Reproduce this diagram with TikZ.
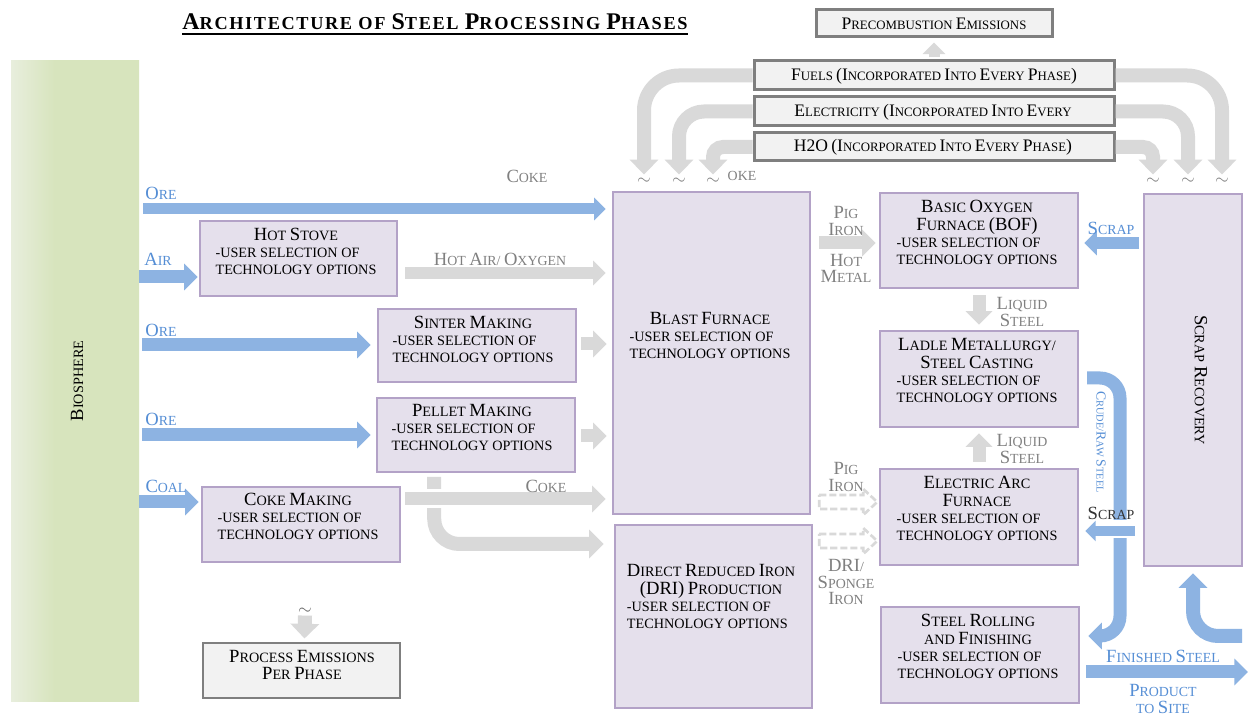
\documentclass[tikz,border=0pt]{standalone}
\usepackage{fontspec}
\setmainfont{Liberation Serif}
\usetikzlibrary{arrows.meta,calc,fit}

\definecolor{phasefill}{HTML}{E5E0EC}
\definecolor{phaseline}{HTML}{B3A2C7}
\definecolor{notefill}{HTML}{F2F2F2}
\definecolor{noteline}{HTML}{7F7F7F}
\definecolor{flowblue}{HTML}{8DB3E2}
\definecolor{labelblue}{HTML}{558ED5}
\definecolor{flowgrey}{HTML}{D9D9D9}
\definecolor{labelgrey}{HTML}{808080}
\definecolor{bioedge}{HTML}{E8EEDD}
\definecolor{biofill}{HTML}{D7E4BD}

% light left edge fading into the biosphere green
\pgfdeclarehorizontalshading{bioshade}{100bp}{color(0bp)=(bioedge); color(25bp)=(bioedge);
  color(42bp)=(biofill); color(100bp)=(biofill)}

% small-capital look: body letters small, initials larger
\newcommand\bodyfont{\fontsize{8.1}{9.7}\selectfont}
\newcommand\labelfont{\fontsize{7.9}{9.2}\selectfont}
\newcommand\energyfont{\fontsize{7.3}{9}\selectfont}
\newcommand\K[1]{{\fontsize{10.6}{9.7}\selectfont #1}}
\newcommand\KE[1]{{\fontsize{10}{9}\selectfont #1}}
\newcommand\KS[1]{{\fontsize{7.8}{9}\selectfont #1}}
\newcommand\KT[1]{{\fontsize{13.6}{14}\selectfont #1}}
\newcommand\hd[1]{\multicolumn{1}{@{}c@{}}{#1}}
\newcommand\phasetext[1]{\begin{tabular}{@{}l@{}}#1\\-USER SELECTION OF\\TECHNOLOGY OPTIONS\end{tabular}}
% hollow dashed block arrow pointing right, starting at #1
\newcommand\hollowarrow[1]{%
  \draw[hollow] (#1) ++(0,-7) -- ++(44,0) -- ++(0,-6) -- ++(14,13) -- ++(-14,13)
    -- ++(0,-6) -- ++(-44,0) -- cycle;}

\begin{document}
\begin{tikzpicture}[x=0.02cm, y=-0.02cm,
  phase/.style={draw=phaseline, fill=phasefill, line width=1.4pt, inner sep=0pt},
  note/.style={draw=noteline, fill=notefill, line width=1.7pt, inner sep=0pt},
  txt/.style={inner sep=0pt, font=\bodyfont, align=center},
  etxt/.style={inner sep=0pt, font=\energyfont, align=center},
  bluelab/.style={inner sep=0pt, font=\labelfont, text=labelblue, align=center},
  greylab/.style={inner sep=0pt, font=\labelfont, text=labelgrey, align=center},
  darklab/.style={inner sep=0pt, font=\labelfont, text=black!80, align=center},
  bflow/.style={draw=flowblue, line width=#1*0.02cm, -{Triangle[length=0pt 1.05, width=0pt 2]}},
  gflow/.style={draw=flowgrey, line width=#1*0.02cm, -{Triangle[length=0pt 1.05, width=0pt 2]}},
  hollow/.style={draw=flowgrey, fill=white, line width=1.5pt, dash pattern=on 4pt off 1.7pt},
  squig/.style={inner sep=0pt, text=labelgrey},
]
\fill[white] (0,0) rectangle (1248,715);
\useasboundingbox (0,0) rectangle (1248,715);

% ---------- title ----------
\node[inner sep=0pt, font=\bfseries\fontsize{10.4}{12}\selectfont\addfontfeature{LetterSpace=9}] (title) at (435,22)
  {\KT{A}RCHITECTURE OF \KT{S}TEEL \KT{P}ROCESSING \KT{P}HASES};
\draw[line width=1.2pt] ([yshift=-2.4pt]title.base west) -- ([yshift=-2.4pt]title.base east);

% ---------- biosphere ----------
\node[fit={(11,61) (139,702)}, inner sep=0pt, shading=bioshade] (bio) {};
\node[txt, rotate=90] (bio-t) at (77,381) {\K{B}IOSPHERE};

% ---------- process phases ----------
\node[phase, fit={(200,221) (397,296)}] (hs) {};
\node[txt] (hs-t) at (296,254) {\phasetext{\hd{\K{H}OT \K{S}TOVE}}};
\node[phase, fit={(378,309) (576,382)}] (sin) {};
\node[txt] (sin-t) at (473,342) {\phasetext{\hd{\K{S}INTER \K{M}AKING}}};
\node[phase, fit={(377,398) (575,472)}] (pel) {};
\node[txt] (pel-t) at (472,430) {\phasetext{\hd{\K{P}ELLET \K{M}AKING}}};
\node[phase, fit={(202,487) (400,562)}] (ck) {};
\node[txt] (ck-t) at (298,519) {\phasetext{\hd{\K{C}OKE \K{M}AKING}}};
\node[phase, fit={(613,192) (810,514)}] (bf) {};
\node[txt] (bf-t) at (710,338) {\phasetext{\hd{\K{B}LAST \K{F}URNACE}}};
\node[phase, fit={(615,525) (812,708)}] (dri) {};
\node[txt] (dri-t) at (711,599) {\phasetext{\hd{\K{D}IRECT \K{R}EDUCED \K{I}RON}\\\hd{\K{(DRI)} \K{P}RODUCTION}}};
\node[phase, fit={(880,193) (1078,288)}] (bof) {};
\node[txt] (bof-t) at (977,235) {\phasetext{\hd{\K{B}ASIC \K{O}XYGEN}\\\hd{\K{F}URNACE \K{(BOF)}}}};
\node[phase, fit={(880,331) (1078,427)}] (lad) {};
\node[txt] (lad-t) at (977,373) {\phasetext{\hd{\K{L}ADLE \K{M}ETALLURGY/}\\\hd{\K{S}TEEL \K{C}ASTING}}};
\node[phase, fit={(880,469) (1078,565)}] (eaf) {};
\node[txt] (eaf-t) at (977,511) {\phasetext{\hd{\K{E}LECTRIC \K{A}RC}\\\hd{\K{F}URNACE}}};
\node[phase, fit={(881,607) (1079,703)}] (rol) {};
\node[txt] (rol-t) at (978,649) {\phasetext{\hd{\K{S}TEEL \K{R}OLLING}\\\hd{AND \K{F}INISHING}}};
\node[phase, fit={(1144,194) (1242,566)}] (scr) {};
\node[txt, rotate=-90] (scr-t) at (1201,380) {\K{S}CRAP \K{R}ECOVERY};

% ---------- emissions and energy boxes ----------
\node[note, fit={(203,643) (400,698)}] (pem) {};
\node[txt, font=\fontsize{8.1}{9.2}\selectfont] (pem-t) at (302,665) {\K{P}ROCESS \K{E}MISSIONS\\\K{P}ER \K{P}HASE};
\node[note, fit={(816,10) (1052,37)}] (pre) {};
\node[etxt] (pre-t) at (934,24) {\KE{P}RECOMBUSTION \KE{E}MISSIONS};
\node[note, fit={(754,61) (1114,90)}] (fu) {};
\node[etxt] (fu-t) at (934,76) {\KE{F}UELS \KE{(I}NCORPORATED \KE{I}NTO \KE{E}VERY \KE{P}HASE\KE{)}};
\node[note, fit={(754,97) (1114,126)}] (el) {};
\node[etxt] (el-t) at (933,112) {\KE{E}LECTRICITY \KE{(I}NCORPORATED \KE{I}NTO \KE{E}VERY};
\node[note, fit={(754,133) (1114,161)}] (wa) {};
\node[etxt] (wa-t) at (933,147) {\KE{H2O} \KE{(I}NCORPORATED \KE{I}NTO \KE{E}VERY \KE{P}HASE\KE{)}};

% small wave marks under the energy feeds
\node[squig] (t1) at (644,181) {$\sim$};
\node[squig] (t2) at (679,181) {$\sim$};
\node[squig] (t3) at (713,181) {$\sim$};
\node[squig] (t4) at (1153,181) {$\sim$};
\node[squig] (t5) at (1188,181) {$\sim$};
\node[squig] (t6) at (1222,181) {$\sim$};
\node[squig, text=black!60] (t7) at (305,611) {$\sim$};

% ---------- energy feeds ----------
\draw[gflow=14, rounded corners=0.7cm] (fu.west) -| ($(t1.north)+(0,-3)$);
\draw[gflow=14, rounded corners=0.5cm] (el.west) -| ($(t2.north)+(0,-3)$);
\draw[gflow=14, rounded corners=0.2cm] (wa.west) -| ($(t3.north)+(0,-3)$);
\draw[gflow=14, rounded corners=0.7cm] (fu.east) -| ($(t6.north)+(0,-3)$);
\draw[gflow=14, rounded corners=0.5cm] (el.east) -| ($(t5.north)+(0,-3)$);
\draw[gflow=14, rounded corners=0.2cm] (wa.east) -| ($(t4.north)+(0,-3)$);
\draw[gflow=11] ($(fu.north)+(0,-2)$) -- ($(pre.south)+(0,4)$);
\draw[gflow=14] ($(t7.south)+(0,1)$) -- ($(pem.north)+(3,-3)$);

% ---------- raw material inputs ----------
\draw[bflow=11] ($(bio.east |- 0,209)+(4,0)$) -- ($(bf.west |- 0,209)+(-6,0)$);
\draw[bflow=13] (bio.east |- 0,277) -- ($(hs.west |- 0,277)+(-1,0)$);
\draw[bflow=13] ($(bio.east |- 0,345)+(3,0)$) -- ($(sin.west |- 0,345)+(-6,0)$);
\draw[bflow=13] ($(bio.east |- 0,435)+(3,0)$) -- ($(pel.west |- 0,435)+(-5,0)$);
\draw[bflow=13] (bio.east |- 0,502) -- ($(ck.west |- 0,502)+(-2,0)$);
\node[bluelab] (l-ore1) at (161,193) {\K{O}RE};
\node[bluelab] (l-air) at (158,259) {\K{A}IR};
\node[bluelab] (l-ore2) at (161,330) {\K{O}RE};
\node[bluelab] (l-ore3) at (161,419) {\K{O}RE};
\node[bluelab] (l-coal) at (166,486) {\K{C}OAL};

% ---------- feeds into the iron making phases ----------
\draw[gflow=12] ($(hs.east |- 0,273)+(7,0)$) -- ($(bf.west |- 0,273)+(-6,0)$);
\draw[gflow=13] ($(sin.east |- 0,344)+(4,0)$) -- ($(bf.west |- 0,344)+(-5,0)$);
\draw[gflow=13] ($(pel.east |- 0,436)+(5,0)$) -- ($(bf.west |- 0,436)+(-5,0)$);
\draw[gflow=14, rounded corners=0.5cm] ($(ck.east |- 0,477)+(33,0)$) |- ($(dri.west |- 0,544)+(-10,0)$);
\draw[white, line width=19*0.02cm] ($(ck.east |- 0,499)+(20,0)$) -- ($(ck.east |- 0,499)+(46,0)$);
\draw[gflow=13] ($(ck.east |- 0,499)+(4,0)$) -- ($(bf.west |- 0,499)+(-6,0)$);
\node[greylab] (l-coke1) at (527,176) {\K{C}OKE};
\node[greylab] (l-hot) at (500,259) {\K{H}OT \K{A}IR/ \K{O}XYGEN};
\node[greylab] (l-coke2) at (546,486) {\K{C}OKE};
\node[greylab] (l-coke3) at (742,176) {OKE};

% ---------- steel making ----------
\draw[gflow=13] ($(bf.east |- 0,243)+(8,0)$) -- ($(bof.west |- 0,243)+(-3,0)$);
\node[greylab] (l-pig1) at (846,221) {\K{P}IG\\\K{I}RON};
\node[greylab] (l-hm) at (846,268) {\K{H}OT\\\K{M}ETAL};
\draw[gflow=13] ($(bof.south)+(0,6)$) -- ($(lad.north)+(0,-5)$);
\node[greylab] (l-liq1) at (1022,312) {\K{L}IQUID\\\K{S}TEEL};
\draw[gflow=13] ($(eaf.north)+(0,-6)$) -- ($(lad.south)+(0,5)$);
\node[greylab] (l-liq2) at (1022,449) {\K{L}IQUID\\\K{S}TEEL};
\hollowarrow{$(bf.east |- 0,502)+(8,0)$}
\hollowarrow{$(dri.east |- 0,541)+(6,0)$}
\node[greylab] (l-pig2) at (846,477) {\K{P}IG\\\K{I}RON};
\node[greylab] (l-dri) at (846,582) {\K{D}\K{R}\K{I}/\\\K{S}PONGE\\\K{I}RON};

% ---------- scrap loop and crude steel ----------
\draw[bflow=12] ($(scr.west |- 0,243)+(-4,0)$) -- ($(bof.east |- 0,243)+(5,0)$);
\node[bluelab] (l-scrap1) at (1111,228) {\K{S}CRAP};
\draw[bflow=13, rounded corners=0.4cm] ($(lad.east |- 0,378)+(8,0)$) -- (1120,378) -- (1120,636)
  -- ($(rol.east |- 0,636)+(8,0)$);
\node[bluelab, rotate=-90, font=\fontsize{5.9}{7}\selectfont] (l-crude) at (1101,442)
  {\KS{C}RUDE/\KS{R}AW \KS{S}TEEL};
\draw[white, line width=18*0.02cm] ($(scr.west |- 0,529)+(-36,0)$) -- ($(scr.west |- 0,529)+(-11,0)$);
\draw[bflow=10] ($(scr.west |- 0,531)+(-8,0)$) -- ($(eaf.east |- 0,531)+(6,0)$);
\node[darklab] (l-scrap2) at (1111,513) {\K{S}CRAP};
\coordinate (back) at (1242,636);
\draw[bflow=14, rounded corners=0.5cm] (back) -| ($(scr.south)+(0,6)$);

% ---------- finished product ----------
\coordinate (site) at (1248,672);
\draw[bflow=13] ($(rol.east |- 0,672)+(6,0)$) -- (site);
\node[bluelab] (l-fin) at (1163,656) {\K{F}INISHED \K{S}TEEL};
\node[bluelab] (l-site) at (1163,699) {\K{P}RODUCT\\TO \K{S}ITE};
\end{tikzpicture}
\end{document}
